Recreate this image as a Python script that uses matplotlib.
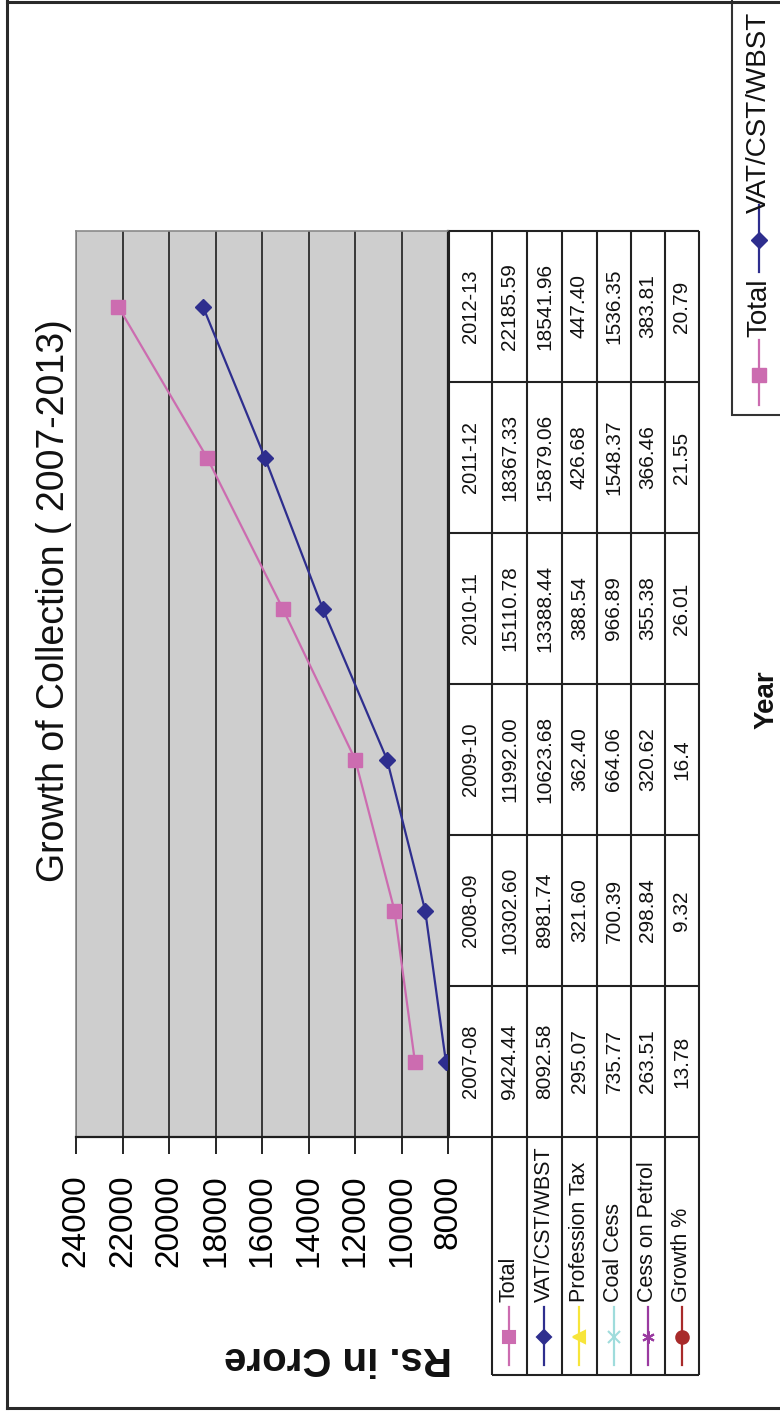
import numpy as np
import matplotlib.pyplot as plt
from matplotlib.patches import Rectangle

plt.rcParams['font.family'] = ['Liberation Sans', 'DejaVu Sans']

years = ['2007-08', '2008-09', '2009-10', '2010-11', '2011-12', '2012-13']
total = [9424.44, 10302.60, 11992.00, 15110.78, 18367.33, 22185.59]
vat = [8092.58, 8981.74, 10623.68, 13388.44, 15879.06, 18541.96]
prof_tax = [295.07, 321.60, 362.40, 388.54, 426.68, 447.40]
coal_cess = [735.77, 700.39, 664.06, 966.89, 1548.37, 1536.35]
cess_petrol = [263.51, 298.84, 320.62, 355.38, 366.46, 383.81]
growth = [13.78, 9.32, 16.4, 26.01, 21.55, 20.79]

series_names = ['Total', 'VAT/CST/WBST', 'Profession Tax', 'Coal Cess',
                'Cess on Petrol', 'Growth %']
series_vals = [total, vat, prof_tax, coal_cess, cess_petrol, growth]
colors = ['#cc6cb0', '#2e2e8e', '#f7e53a', '#9fdcdc', '#9a3aa0', '#a82a2a']
# markers turned a quarter so they sit with the sideways chart
markers = ['s', 'D', '<', 'x', (6, 2, 0), 'o']
key_ms = [9, 7, 9, 9, 9, 9]

W, H = 780, 1412
fig = plt.figure(figsize=(W / 100, H / 100), dpi=100)


def box(x0, y0, x1, y1):
    return [x0 / W, 1 - y1 / H, (x1 - x0) / W, (y1 - y0) / H]


# plot area (values run right-to-left, years bottom-to-top)
P_L, P_R, P_T, P_B = 76, 448, 231, 1137
ax = fig.add_axes(box(P_L, P_T, P_R, P_B))
ax.set_facecolor('#cecece')
ax.set_xlim(24000, 8000)
ax.set_ylim(-0.5, 5.5)
pos = np.arange(len(years))
ax.plot(total, pos, color=colors[0], marker='s', ms=10.5, lw=1.6, zorder=3)
ax.plot(vat, pos, color=colors[1], marker='D', ms=8.5, lw=1.6, zorder=3)
ax.set_xticks(np.arange(8000, 24001, 2000))
ax.set_yticks([])
ax.grid(axis='x', color='#1e1e1e', lw=1.2)
ax.set_axisbelow(True)
ax.tick_params(axis='x', direction='out', length=12, width=1.2, pad=15,
               labelsize=24, labelrotation=90)
for s in ('left', 'top'):
    ax.spines[s].set_color('#8a8a8a')
    ax.spines[s].set_linewidth(1.2)
for s in ('right', 'bottom'):
    ax.spines[s].set_color('#1e1e1e')
    ax.spines[s].set_linewidth(1.6)

# data table beside the plot, rows follow the year bands
band = (P_B - P_T) / len(years)
KEY_B = 1375
key_low = -0.5 - (KEY_B - P_B) / band
tab = fig.add_axes(box(P_R, P_T, 700, KEY_B))
tab.set_xlim(P_R, 700)
tab.set_ylim(key_low, 5.5)
tab.axis('off')


def band_y(py):
    return -0.5 - (py - P_B) / band


edges = [449, 492, 527, 562, 597, 631, 665, 699]
lc, lw = '#222222', 1.5
tab.hlines(np.arange(-0.5, 6), edges[0], edges[-1], color=lc, lw=lw, clip_on=False)
tab.hlines(key_low, edges[1], edges[-1], color=lc, lw=lw, clip_on=False)
tab.vlines(edges[0], -0.5, 5.5, color=lc, lw=lw, clip_on=False)
tab.vlines(edges[1:], key_low, 5.5, color=lc, lw=lw, clip_on=False)

for i, yr in enumerate(years):
    tab.text((edges[0] + edges[1]) / 2, i, yr, rotation=90, ha='center',
             va='center', fontsize=14.5, color='#111')

for j, (name, vals) in enumerate(zip(series_names, series_vals)):
    xc = (edges[j + 1] + edges[j + 2]) / 2
    for i, v in enumerate(vals):
        txt = str(v) if name == 'Growth %' else f'{v:.2f}'
        tab.text(xc, i, txt, rotation=90, ha='center', va='center',
                 fontsize=15, color='#111')
    # legend key inside the table
    tab.plot([xc, xc], [band_y(1307), band_y(1365)], color=colors[j], lw=1.6,
             clip_on=False)
    tab.plot([xc], [band_y(1337)], color=colors[j], marker=markers[j],
             ms=key_ms[j], mew=1.5, clip_on=False)
    tab.text(xc, band_y(1302), name, rotation=90, ha='center', va='bottom',
             fontsize=15.5, color='#111')

# overlay in pixel units for titles, frame and the series legend
ov = fig.add_axes([0, 0, 1, 1])
ov.set_xlim(0, W)
ov.set_ylim(H, 0)
ov.axis('off')
ov.patch.set_alpha(0)

ov.plot([7, 7], [1, 1408], color='#2a2a2a', lw=2.2)
ov.plot([7, W + 5], [1.5, 1.5], color='#2a2a2a', lw=2.2)
ov.plot([7, W + 5], [1408, 1408], color='#2a2a2a', lw=2.2)

ov.text(54, 601, 'Growth of Collection ( 2007-2013)', rotation=90,
        ha='center', va='center', fontsize=27, color='#111')
ov.text(338, 1358, 'Rs. in Crore', rotation=180, ha='center', va='center',
        fontsize=29, fontweight='bold', color='#111')
ov.text(767, 700, 'Year', rotation=90, ha='center', va='center',
        fontsize=20, fontweight='bold', color='#111')

ov.add_patch(Rectangle((732, -20), 80, 435, fill=False, ec='#333', lw=1.5))
ov.plot([759, 759], [340, 405], color=colors[0], lw=1.6)
ov.plot([759], [375], color=colors[0], marker='s', ms=10)
ov.text(759, 337, 'Total', rotation=90, ha='center', va='bottom',
        fontsize=20, color='#111')
ov.plot([759, 759], [205, 272], color=colors[1], lw=1.6)
ov.plot([759], [240], color=colors[1], marker='D', ms=8)
ov.text(759, 213, 'VAT/CST/WBST', rotation=90, ha='center', va='bottom',
        fontsize=20, color='#111')

fig.savefig('out.png', dpi=100)
